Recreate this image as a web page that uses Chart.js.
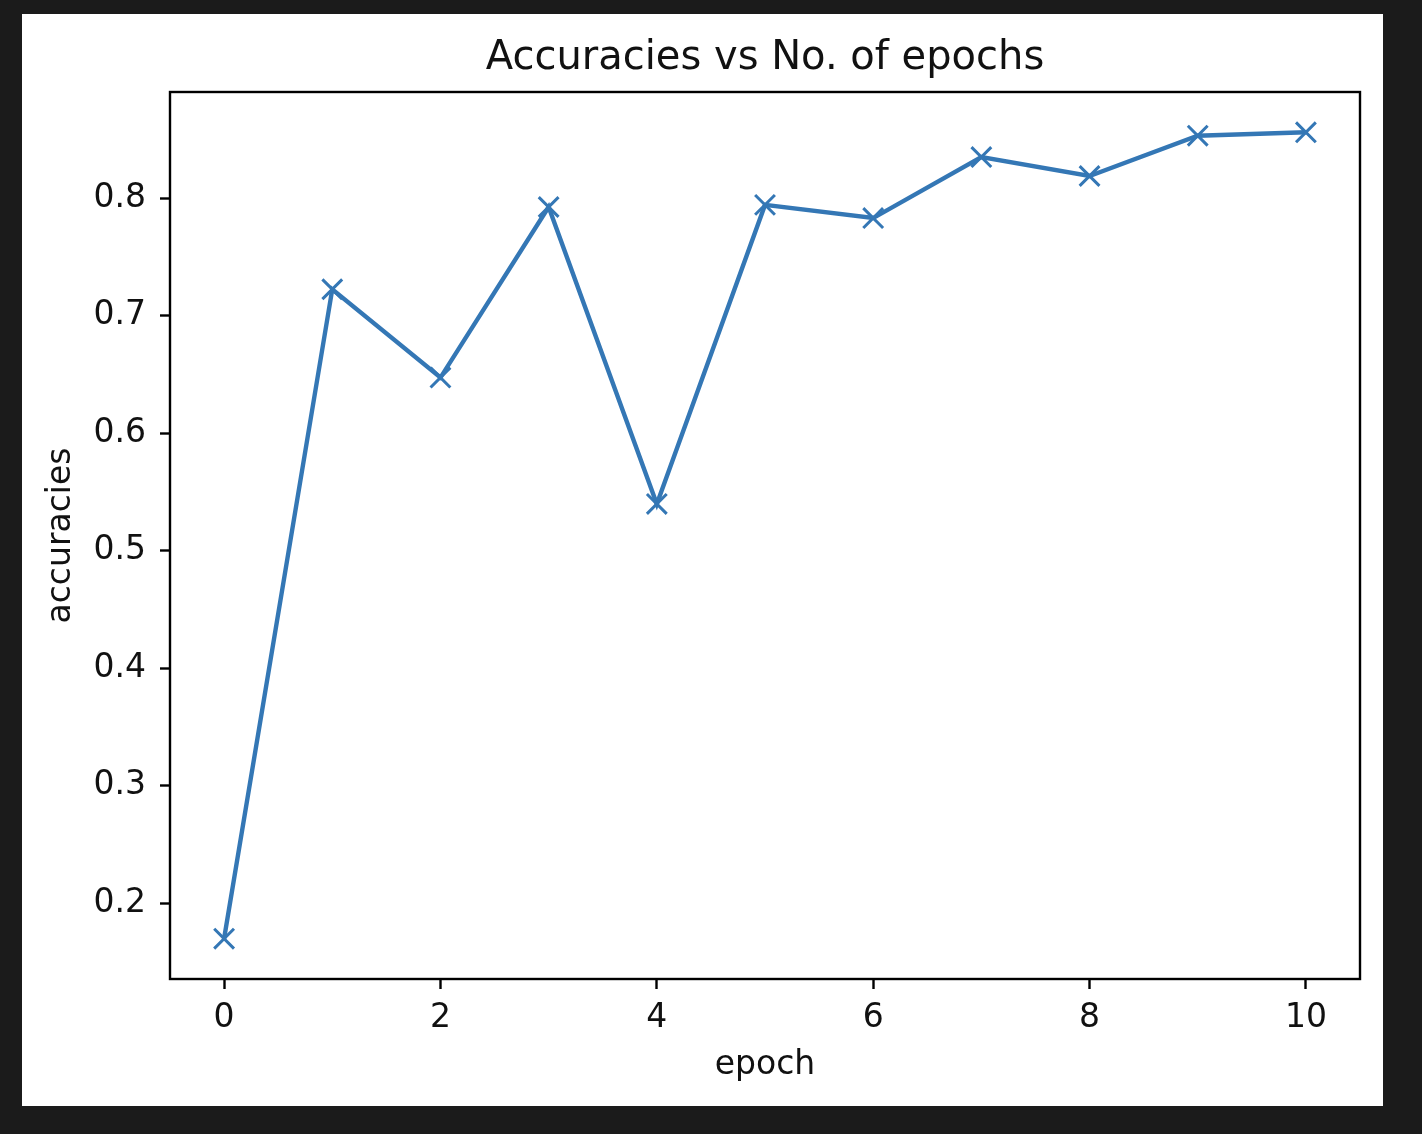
<!DOCTYPE html>
<html lang="en">
<head>
    <meta charset="UTF-8">
    <title>Accuracies vs No. of epochs</title>
    <script src="https://cdn.jsdelivr.net/npm/chart.js"></script>
    <style>
        * {
            margin: 0;
            padding: 0;
            box-sizing: border-box;
        }

        body {
            width: 1422px;
            height: 1134px;
            background: #1b1b1b;
            position: relative;
            overflow: hidden;
        }

        .figure {
            position: absolute;
            left: 22px;
            top: 14px;
            width: 1361px;
            height: 1092px;
            background: white;
        }
    </style>
</head>
<body>
    <div class="figure">
        <canvas id="accChart"></canvas>
    </div>

    <script>
        const epochs = [0, 1, 2, 3, 4, 5, 6, 7, 8, 9, 10];
        const accuracies = [0.1697, 0.7226, 0.6474, 0.7926, 0.5398, 0.7944, 0.7832, 0.8351, 0.8190, 0.8533, 0.8562];
        const xTicks = [0, 2, 4, 6, 8, 10];
        const yTicks = [0.2, 0.3, 0.4, 0.5, 0.6, 0.7, 0.8];
        const chartTitle = 'Accuracies vs No. of epochs';

        const family = '"DejaVu Sans", sans-serif';
        const font = { family: family, size: 33 };

        // box around the axes + title centred over the plot area (like matplotlib)
        const frame = {
            id: 'frame',
            afterDraw(chart) {
                const { ctx, chartArea: a } = chart;
                ctx.save();
                ctx.strokeStyle = '#000';
                ctx.lineWidth = 2.4;
                ctx.strokeRect(a.left, a.top, a.right - a.left, a.bottom - a.top);

                ctx.fillStyle = '#111';
                ctx.font = '40px ' + family;
                ctx.textAlign = 'center';
                ctx.textBaseline = 'middle';
                ctx.fillText(chartTitle, (a.left + a.right) / 2, 45);
                ctx.restore();
            }
        };

        new Chart(document.getElementById('accChart'), {
            type: 'line',
            data: {
                datasets: [{
                    data: epochs.map((e, i) => ({ x: e, y: accuracies[i] })),
                    borderColor: '#3477b5',
                    borderWidth: 4.4,
                    pointStyle: 'crossRot',
                    pointRadius: 14,
                    pointBorderWidth: 3,
                    pointBorderColor: '#3477b5',
                    tension: 0
                }]
            },
            options: {
                responsive: true,
                maintainAspectRatio: false,
                animation: false,
                layout: { padding: { left: 0, right: 23, top: 78, bottom: 0 } },
                plugins: {
                    legend: { display: false },
                    tooltip: { enabled: false },
                    title: { display: false }
                },
                scales: {
                    x: {
                        type: 'linear',
                        min: -0.5,
                        max: 10.5,
                        afterBuildTicks: s => { s.ticks = xTicks.map(v => ({ value: v })); },
                        afterFit: s => { s.height = 127; },
                        border: { display: false },
                        grid: { drawOnChartArea: false, drawTicks: true, tickLength: 10, tickWidth: 2.4, tickColor: '#000' },
                        ticks: { color: '#111', font: font, padding: 10, maxRotation: 0 },
                        title: { display: true, text: 'epoch', color: '#111', font: font, padding: { top: 0, bottom: 21 } }
                    },
                    y: {
                        type: 'linear',
                        min: 0.1354,
                        max: 0.8905,
                        afterBuildTicks: s => { s.ticks = yTicks.map(v => ({ value: v })); },
                        afterFit: s => { s.width = 148; },
                        border: { display: false },
                        grid: { drawOnChartArea: false, drawTicks: true, tickLength: 10, tickWidth: 2.4, tickColor: '#000' },
                        ticks: { color: '#111', font: font, padding: 14, callback: v => v.toFixed(1) },
                        title: { display: true, text: 'accuracies', color: '#111', font: font, padding: { top: 20, bottom: 0 } }
                    }
                }
            },
            plugins: [frame]
        });
    </script>
</body>
</html>
